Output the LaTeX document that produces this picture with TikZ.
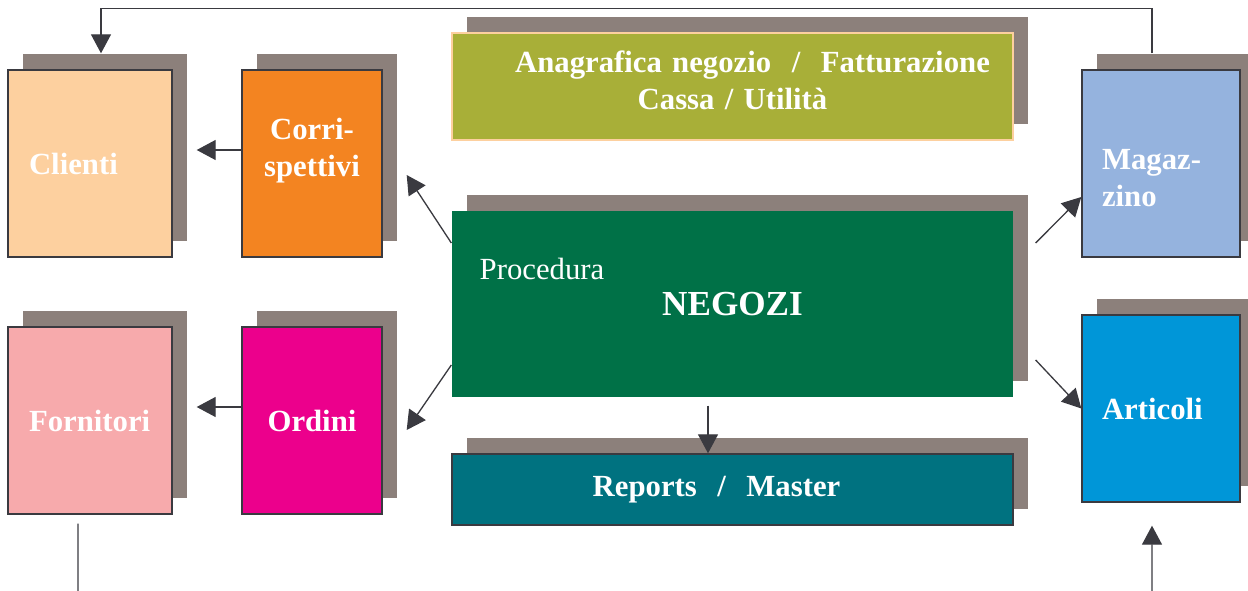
\documentclass[tikz,border=0pt]{standalone}
\usepackage{fontspec}
\setmainfont{Liberation Serif}
\usepackage{xcolor}
\usetikzlibrary{arrows.meta}
\usetikzlibrary{shadows}

\definecolor{shadowgray}{HTML}{8C807B}
\definecolor{edgegray}{HTML}{3A3A40}
\definecolor{clienticol}{HTML}{FDD09F}
\definecolor{corrcol}{HTML}{F38421}
\definecolor{fornitcol}{HTML}{F7AAAC}
\definecolor{ordinicol}{HTML}{EC008C}
\definecolor{anagcol}{HTML}{A8AF38}
\definecolor{negozicol}{HTML}{007147}
\definecolor{reportscol}{HTML}{007280}
\definecolor{magazcol}{HTML}{95B3DE}
\definecolor{articolicol}{HTML}{0096D8}

\begin{document}
\begin{tikzpicture}[x=0.02cm, y=-0.02cm,
  box/.style={rectangle, draw=edgegray, line width=0.8pt, text=white,
    font=\fontsize{17.5}{21}\selectfont\bfseries,
    drop shadow={shadow xshift=0.3cm, shadow yshift=0.32cm, fill=shadowgray, opacity=1}},
  tall/.style={minimum height=3.74cm},
  wide/.style={minimum width=11.22cm, text width=10.6cm, align=center},
  wire/.style={draw=edgegray, line width=0.75pt},
  link/.style={wire, -{Triangle[length=0.38cm, width=0.4cm]}}]
\useasboundingbox (0,0) rectangle (1248,591);

\node [box, tall, fill=clienticol, minimum width=3.28cm, text width=2.44cm,
       inner xsep=0.42cm, align=left] (clienti) at (90,163.5) {Clienti};
\node [box, tall, fill=corrcol, minimum width=2.8cm, text width=2.4cm,
       align=center] (corrisp) at (312,163.5) {Corri-\\spettivi\par\vspace*{0.5cm}};
\node [box, tall, fill=fornitcol, minimum width=3.28cm, text width=2.44cm,
       inner xsep=0.42cm, align=left] (fornitori) at (90,420.5) {Fornitori};
\node [box, tall, fill=ordinicol, minimum width=2.8cm, text width=2.4cm,
       align=center] (ordini) at (312,420.5) {Ordini};

\node [box, fill=anagcol, draw=clienticol, wide, minimum height=2.14cm]
       (anagrafica) at (732.5,86.5)
       {\hspace*{0.8cm}Anagrafica negozio~ /~ Fatturazione\\Cassa / Utilità\par\vspace*{0.24cm}};
\node [box, fill=negozicol, draw=none, minimum width=11.22cm, minimum height=3.72cm,
       font=\fontsize{20}{24}\selectfont\bfseries] (negozi) at (732.5,304) {NEGOZI};
\node [anchor=west, inner sep=0pt, text=white, font=\fontsize{17.5}{21}\selectfont]
       (procedura) at ([shift={(0.56cm,-1.18cm)}]negozi.north west) {Procedura};
\node [box, fill=reportscol, wide, minimum height=1.42cm]
       (reports) at (732.5,489.5) {Reports~ /~ Master\hspace*{0.64cm}};

\node [box, tall, fill=magazcol, minimum width=3.16cm, text width=2.36cm,
       inner xsep=0.4cm, align=left] (magazzino) at (1161,163.5)
       {\rule{0pt}{1cm}Magaz-\\zino};
\node [box, tall, fill=articolicol, minimum width=3.16cm, text width=2.36cm,
       inner xsep=0.4cm, align=left] (articoli) at (1161,408.5) {Articoli};

\draw[link] ([yshift=0.27cm]corrisp.west) -- ([shift={(0.48cm,0.27cm)}]clienti.east);
\draw[link] ([yshift=0.27cm]ordini.west) -- ([shift={(0.48cm,0.27cm)}]fornitori.east);
\draw[link] ([yshift=1.22cm]negozi.west) -- ([shift={(0.48cm,-0.23cm)}]corrisp.east);
\draw[link] ([yshift=-1.22cm]negozi.west) -- ([shift={(0.48cm,-0.19cm)}]ordini.east);
\draw[link] ([shift={(0.44cm,1.22cm)}]negozi.east) -- ([yshift=-0.67cm]magazzino.west);
\draw[link] ([shift={(0.44cm,-1.12cm)}]negozi.east) -- (articoli.west);
\draw[link] ([shift={(-0.49cm,-0.16cm)}]negozi.south) -- ([xshift=-0.49cm]reports.north);
\draw[link] ([shift={(-0.18cm,0.32cm)}]magazzino.north) -- ++(0,0.9cm)
            -| ([shift={(0.22cm,0.32cm)}]clienti.north);

\coordinate (fornout) at (78,591);
\coordinate (artin) at (1152,591);
\draw[wire] ([shift={(-0.24cm,-0.18cm)}]fornitori.south) -- (fornout);
\draw[link] (artin) -- ([shift={(-0.18cm,-0.46cm)}]articoli.south);
\end{tikzpicture}
\end{document}
